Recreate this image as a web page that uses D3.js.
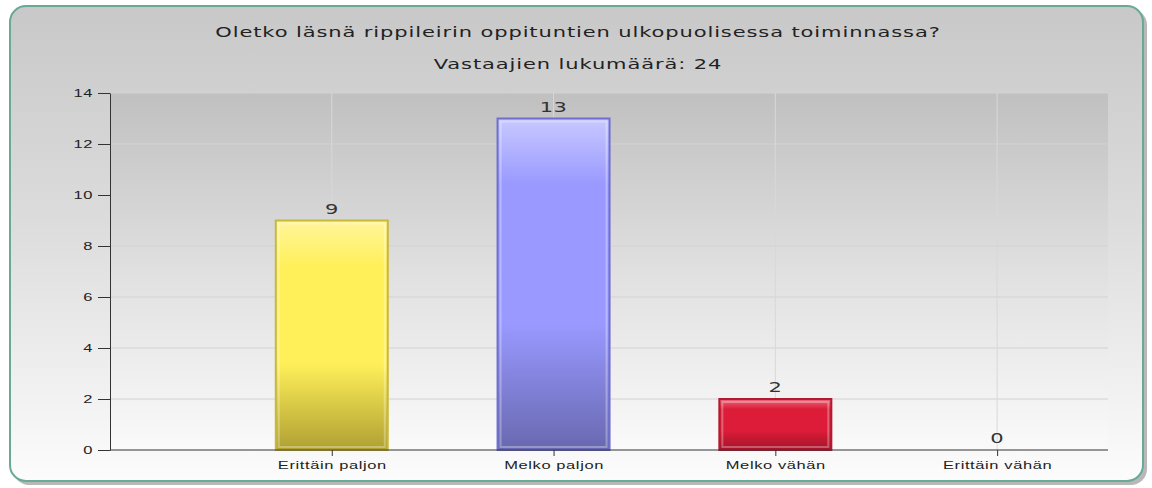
<!DOCTYPE html>
<html>
<head>
<meta charset="utf-8">
<script src="https://cdn.jsdelivr.net/npm/d3@7"></script>
<style>
	body { margin: 0; background: #ffffff; }
	svg { display: block; font-family: "DejaVu Sans", Verdana, sans-serif; }
	.axis path, .axis line { stroke: #333; }
	.axis text { fill: #222; font-size: 11px; letter-spacing: 0.4px; }
</style>
</head>
<body>
<div class="chart"></div>
<script>
(function() {

	// DATA
	var title = 'Oletko läsnä rippileirin oppituntien ulkopuolisessa toiminnassa?';
	var subtitle = 'Vastaajien lukumäärä: 24';
	var categories = ['Erittäin paljon', 'Melko paljon', 'Melko vähän', 'Erittäin vähän'];
	var counts = [9, 13, 2, 0];
	var yTicks = [0, 2, 4, 6, 8, 10, 12, 14];
	var barColors = [
		{ top: '#fff59a', mid: '#fff05a', bot: '#b0a033', edge: '#c9b93a' },
		{ top: '#c8c8ff', mid: '#9999ff', bot: '#6868b0', edge: '#6f6fd0' },
		{ top: '#e86a7c', mid: '#dc1c38', bot: '#a3142a', edge: '#b01a32' },
		{ top: '#dddddd', mid: '#cccccc', bot: '#999999', edge: '#999999' }
	];

	var svgW = 1152, svgH = 488;
	var margin = { top: 93, left: 110, right: 44, bottom: 38 };
	var width = svgW - margin.left - margin.right;
	var height = svgH - margin.top - margin.bottom;
	var stretch = 1.5; // text in the picture is drawn wide

	var svg = d3.select('.chart').append('svg')
		.attr('width', svgW)
		.attr('height', svgH);

	var defs = svg.append('defs');

	var bg = defs.append('linearGradient').attr('id', 'panelGrad')
		.attr('x1', 0).attr('y1', 0).attr('x2', 0).attr('y2', 1);
	bg.append('stop').attr('offset', '0%').attr('stop-color', '#c8c8c8');
	bg.append('stop').attr('offset', '45%').attr('stop-color', '#dcdcdc');
	bg.append('stop').attr('offset', '100%').attr('stop-color', '#fcfcfc');

	var pg = defs.append('linearGradient').attr('id', 'plotGrad')
		.attr('x1', 0).attr('y1', 0).attr('x2', 0).attr('y2', 1);
	pg.append('stop').attr('offset', '0%').attr('stop-color', '#c0c0c0');
	pg.append('stop').attr('offset', '50%').attr('stop-color', '#e0e0e0');
	pg.append('stop').attr('offset', '100%').attr('stop-color', '#fafafa');

	barColors.forEach(function(c, i) {
		var g = defs.append('linearGradient').attr('id', 'bar' + i)
			.attr('x1', 0).attr('y1', 0).attr('x2', 0).attr('y2', 1);
		g.append('stop').attr('offset', '0%').attr('stop-color', c.top);
		g.append('stop').attr('offset', '20%').attr('stop-color', c.mid);
		g.append('stop').attr('offset', '62%').attr('stop-color', c.mid);
		g.append('stop').attr('offset', '100%').attr('stop-color', c.bot);
	});

	// panel shadow + panel
	svg.append('rect')
		.attr('x', 13).attr('y', 9).attr('width', 1134).attr('height', 476)
		.attr('rx', 16).attr('fill', '#b8b8b8');
	svg.append('rect')
		.attr('x', 10).attr('y', 6).attr('width', 1133).attr('height', 475)
		.attr('rx', 16)
		.attr('fill', 'url(#panelGrad)')
		.attr('stroke', '#6aa898').attr('stroke-width', 2);

	function wideText(sel, x, y, str, size) {
		return sel.append('text')
			.attr('transform', 'translate(' + x + ',' + y + ') scale(' + stretch + ',1)')
			.attr('text-anchor', 'middle')
			.style('font-size', size + 'px').style('letter-spacing', '0.6px')
			.attr('fill', '#222')
			.text(str);
	}

	wideText(svg, 578, 37, title, 14);
	wideText(svg, 578, 69, subtitle, 14);

	var g = svg.append('g')
		.attr('transform', 'translate(' + margin.left + ',' + margin.top + ')');

	// scales
	var step = width / 4.5;
	var x = d3.scalePoint()
		.domain(categories)
		.range([step, step * categories.length]);
	var y = d3.scaleLinear()
		.domain([0, 14])
		.range([height, 0]);
	var barW = 112;

	g.append('rect')
		.attr('width', width).attr('height', height)
		.attr('fill', 'url(#plotGrad)');

	// grid
	g.selectAll('.hgrid').data(yTicks.slice(1))
		.enter().append('line')
		.attr('x1', 0).attr('x2', width)
		.attr('y1', function(d) { return y(d); })
		.attr('y2', function(d) { return y(d); })
		.attr('stroke', '#d2d2d2').attr('stroke-width', 1);
	g.selectAll('.vgrid').data(categories)
		.enter().append('line')
		.attr('x1', function(d) { return x(d); })
		.attr('x2', function(d) { return x(d); })
		.attr('y1', 0).attr('y2', height)
		.attr('stroke', '#d8d8d8').attr('stroke-width', 1);

	// bars
	var bars = g.selectAll('.bar').data(counts)
		.enter().append('g').attr('class', 'bar');
	bars.filter(function(d) { return d > 0; }).append('rect')
		.attr('x', function(d, i) { return x(categories[i]) - barW / 2; })
		.attr('y', function(d) { return y(d); })
		.attr('width', barW)
		.attr('height', function(d) { return height - y(d); })
		.attr('fill', function(d, i) { return 'url(#bar' + i + ')'; })
		.attr('stroke', function(d, i) { return barColors[i].edge; })
		.attr('stroke-width', 2);
	bars.filter(function(d) { return d > 0; }).append('rect')
		.attr('x', function(d, i) { return x(categories[i]) - barW / 2 + 3; })
		.attr('y', function(d) { return y(d) + 3; })
		.attr('width', barW - 6)
		.attr('height', function(d) { return Math.max(0, height - y(d) - 6); })
		.attr('fill', 'none')
		.attr('stroke', 'rgba(255,255,255,0.3)')
		.attr('stroke-width', 2);

	counts.forEach(function(d, i) {
		wideText(g, x(categories[i]), y(d) - 7, d, 14).attr('fill', '#333').style('letter-spacing', '0.3px');
	});

	// axes
	var xAxis = g.append('g')
		.attr('class', 'axis axis--x')
		.attr('transform', 'translate(0,' + height + ')')
		.call(d3.axisBottom(x).tickSize(6).tickSizeOuter(0).tickPadding(5));
	xAxis.select('.domain').attr('d', 'M0,0H' + width);
	xAxis.selectAll('text').attr('transform', 'scale(' + stretch + ',1)');

	var yAxis = g.append('g')
		.attr('class', 'axis axis--y')
		.call(d3.axisLeft(y).tickValues(yTicks).tickSize(12).tickSizeOuter(0).tickPadding(0));
	yAxis.selectAll('text')
		.attr('x', -17 / stretch)
		.attr('transform', 'scale(' + stretch + ',1)');

})();
</script>
</body>
</html>
